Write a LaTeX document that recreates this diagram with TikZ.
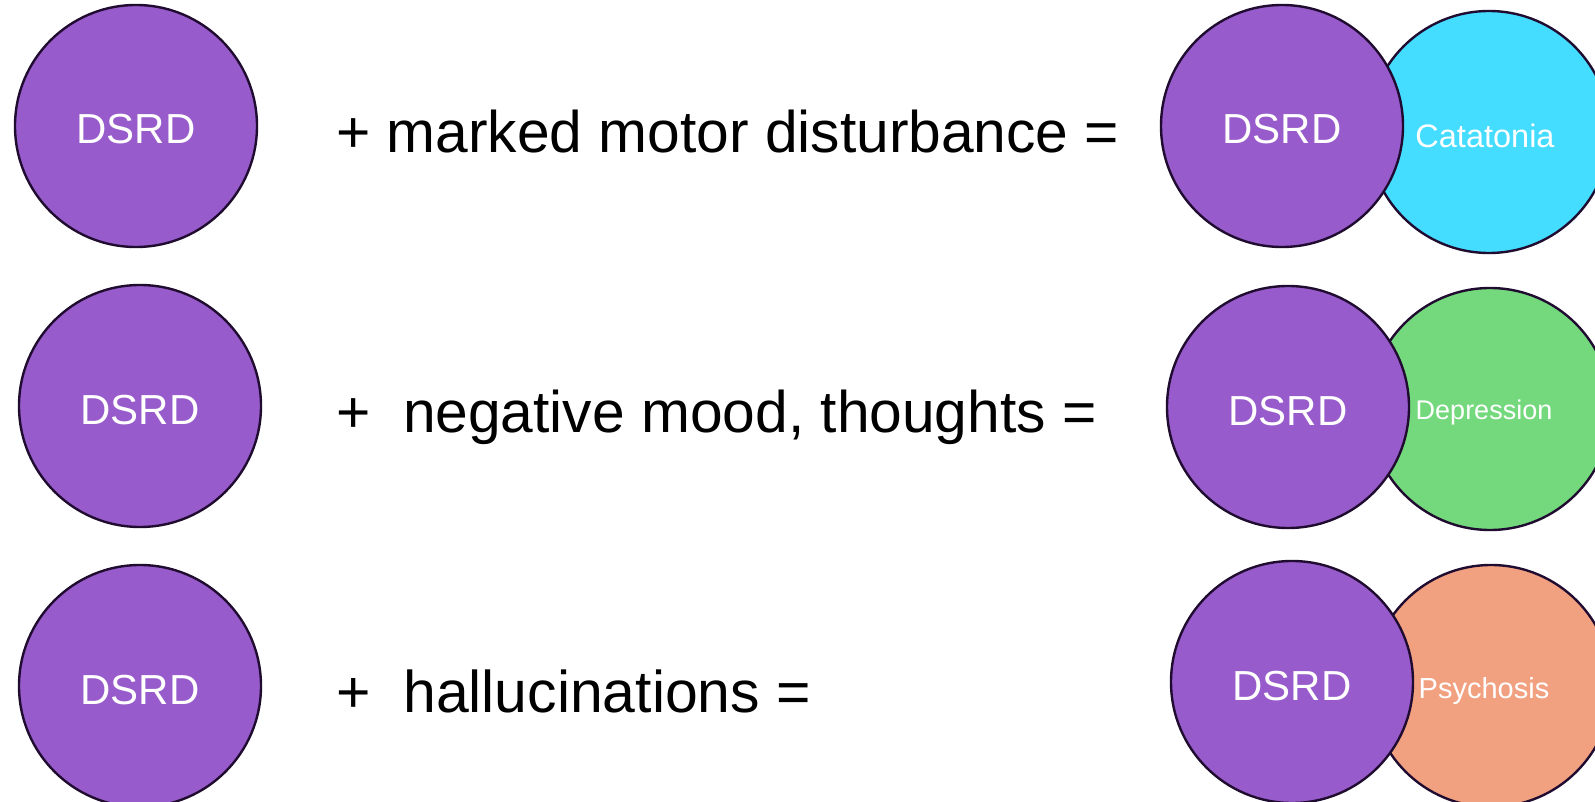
\documentclass[tikz,border=0pt]{standalone}
\usepackage{fontspec}
\setmainfont{Liberation Sans}
\definecolor{dsrdpurple}{RGB}{151, 91, 203}
\definecolor{catcyan}{RGB}{68, 221, 255}
\definecolor{depgreen}{RGB}{116, 216, 124}
\definecolor{psysalmon}{RGB}{242, 161, 128}
\definecolor{rimdark}{RGB}{32, 12, 48}
\tikzset{
	blob/.style={circle, draw=rimdark, line width=2.4pt, inner sep=0pt, minimum size=242pt, text=white},
	dsrd/.style={blob, fill=dsrdpurple, text depth=0pt, text height=36pt, font=\fontsize{42}{50}\selectfont},
	condlabel/.style={anchor=base, inner sep=0pt, text=white, font=\fontsize{#1}{#1}\selectfont},
	sumtext/.style={anchor=base west, inner sep=0pt, font=\fontsize{#1}{#1}\selectfont},
}

\begin{document}
\begin{tikzpicture}[x=1pt, y=-1pt]
		\useasboundingbox (0,0) rectangle (1595,802);
		\node[dsrd] (dsrdA) at (136,126) {DSRD};
		\node[dsrd] (dsrdB) at (140,406) {DSRD};
		\node[dsrd] (dsrdC) at (140,686) {DSRD};
		\node[sumtext=58.7] (motor) at (336,153) {+ marked motor disturbance =};
		\node[sumtext=58.7] (mood) at (336,432) {+\ \ negative mood, thoughts =};
		\node[sumtext=58.9] (halluc) at (336,712) {+\ \ hallucinations =};
		\node[blob, fill=catcyan] (cata) at (1489,132) {};
		\node[blob, fill=depgreen] (depr) at (1490,409) {};
		\node[blob, fill=psysalmon] (psych) at (1491,686) {};
		\node[condlabel=32.5] (catatext) at (1485,148) {Catatonia};
		\node[condlabel=27] (deprtext) at (1484,419) {Depression};
		\node[condlabel=29] (psychtext) at (1484,698) {Psychosis};
		\node[dsrd] (dsrdAr) at (1282,126) {DSRD};
		\node[dsrd] (dsrdBr) at (1288,407) {DSRD};
		\node[dsrd] (dsrdCr) at (1292,682) {DSRD};
	\end{tikzpicture}
\end{document}
